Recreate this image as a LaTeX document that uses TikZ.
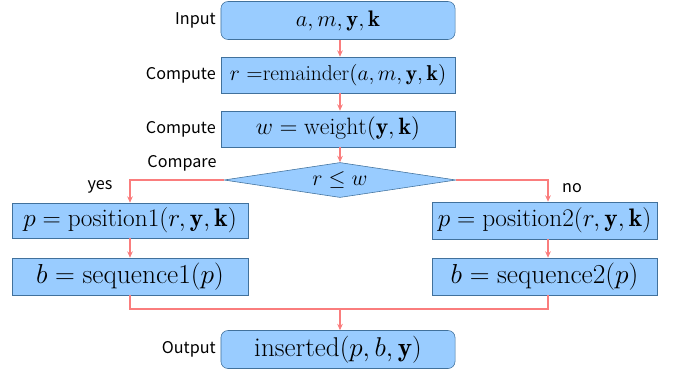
\RequirePackage{fix-cm}
\documentclass[tikz,border=0pt]{standalone}
\usepackage{amsmath,amssymb}
\usepackage{fontspec}
\newfontfamily\labelfont{Noto Sans CJK JP}
\usepackage{tikz}
\usetikzlibrary{arrows.meta,shapes.geometric}
\definecolor{fcfill}{RGB}{153,204,255}
\definecolor{fcedge}{RGB}{65,113,156}
\definecolor{fcline}{RGB}{250,125,125}

\begin{document}
\begin{tikzpicture}[
  x=0.025cm,y=-0.025cm,
  stepbox/.style={draw=fcedge,fill=fcfill,minimum width=5.85cm,minimum height=0.9cm,
                  inner sep=1pt,font=\fontsize{19.5}{21}\selectfont},
  endbox/.style={stepbox,rounded corners=5pt,minimum height=0.95cm},
  test/.style={diamond,draw=fcedge,fill=fcfill,aspect=6.6,inner sep=0pt,
               minimum width=5.8cm,minimum height=0.875cm,font=\fontsize{15.5}{17}\selectfont},
  side/.style={font=\labelfont\fontsize{11.5}{13}\selectfont},
  flow/.style={draw=fcline,thick,-{Stealth[length=1.6mm,width=1.4mm]}},
  merge/.style={draw=fcline,thick}
]
  \useasboundingbox (0,0) rectangle (683,371);

  \node[endbox,font=\fontsize{16}{18}\selectfont] (in) at (338,20.5) {$a,m,\mathbf{y},\mathbf{k}$};
  \node[stepbox,font=\fontsize{15.3}{17}\selectfont] (rem) at (338,75) {$r\ {=}\mathrm{remainder}(a,m,\mathbf{y},\mathbf{k})$};
  \node[stepbox,font=\fontsize{16.8}{18}\selectfont] (wt) at (338,129) {$w=\mathrm{weight}(\mathbf{y},\mathbf{k})$};
  \node[test] (cmp) at (340,180) {$r\leq w$};
  \node[stepbox,minimum width=5.9cm,minimum height=0.875cm,font=\fontsize{18}{20}\selectfont] (pos1) at (130,220.5) {$p=\mathrm{position1}(r,\mathbf{y},\mathbf{k})$};
  \node[stepbox,minimum width=5.9cm,minimum height=0.925cm] (seq1) at (130,276.5) {$b=\mathrm{sequence1}(p)$};
  \node[stepbox,minimum width=5.625cm,minimum height=0.925cm,font=\fontsize{18}{20}\selectfont] (pos2) at (544.5,220.5) {$p=\mathrm{position2}(r,\mathbf{y},\mathbf{k})$};
  \node[stepbox,minimum width=5.625cm,minimum height=0.925cm] (seq2) at (544.5,276.5) {$b=\mathrm{sequence2}(p)$};
  \node[endbox,font=\fontsize{19.3}{21}\selectfont] (out) at (338,349.5) {$\mathrm{inserted}(p,b,\mathbf{y})$};

  % labels beside the boxes
  \node[side,anchor=east] (lin) at (in.west) {Input};
  \node[side,anchor=east] (lrem) at (rem.west) {Compute};
  \node[side,anchor=east] (lwt) at (wt.west) {Compute};
  \node[side] (lcmp) at (182,163) {Compare};
  \node[side] (lyes) at (100,187) {yes};
  \node[side] (lno) at (572,188) {no};
  \node[side,anchor=east] (lout) at (out.west) {Output};

  % connectors
  \coordinate (rx) at (548,0);
  \coordinate (join) at (340,309);
  \draw[flow] (in.south -| cmp) -- (rem.north -| cmp);
  \draw[flow] (rem.south -| cmp) -- (wt.north -| cmp);
  \draw[flow] (wt.south -| cmp) -- (cmp.north);
  \draw[flow] (cmp.west) -| (pos1.north);
  \draw[flow] (cmp.east) -| (rx |- pos2.north);
  \draw[flow] (pos1) -- (seq1);
  \draw[flow] (rx |- pos2.south) -- (rx |- seq2.north);
  \draw[merge] (seq1.south) |- (join) -| (rx |- seq2.south);
  \draw[flow] (join) -- (join |- out.north);
\end{tikzpicture}
\end{document}
